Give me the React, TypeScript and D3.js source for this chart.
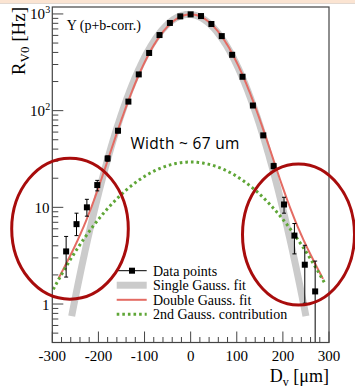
import * as d3 from "d3";

// bin centres (µm) and measured rates (Hz)
const binCenters = [-270, -247.5, -225, -202.5, -180, -157.5, -135, -112.5, -90, -67.5, -45, -22.5, 0,
  22.5, 45, 67.5, 90, 112.5, 135, 157.5, 180, 202.5, 225, 247.5, 270];
const rates = [3.5, 6.7, 10, 17, 32, 62, 124, 237, 395, 605, 807, 944, 990,
  951, 787, 590, 378, 224, 113, 55.5, 26.7, 10.7, 5.1, 2.55, 1.35];
const errLow = [1.9, 5.1, 8.1, 14.8, 30, 59, 120, 232, 390, 600, 800, 938, 984,
  945, 780, 584, 372, 219, 110, 53, 25, 8.7, 3.3, 1.02, 0.4];
const errHigh = [5.0, 8.7, 12.1, 19, 34, 65, 128, 242, 400, 610, 814, 950, 996,
  957, 794, 596, 384, 229, 116, 58, 28.5, 12.7, 6.8, 4.05, 2.78];

// fit parameters
const singleFit = { amp: 990, mean: -4, sigma: 67, from: -258, to: 250 };
const narrowFit = { amp: 960, mean: 0, sigma: 65 };
const broadFit = { amp: 29.4, mean: 0, sigma: 121 };
const doubleRange = [-287, 287];
const broadRange = [-298, 292];

const xTicksMajor = [-300, -200, -100, 0, 100, 200, 300];
const yTicksMajor = [1, 10, 100, 1000];
const yTickLabels = [["1", ""], ["10", ""], ["10", "2"], ["10", "3"]];
const legendItems = ["Data points", "Single Gauss. fit", "Double Gauss. fit", "2nd Gauss. contribution"];

const W = 355, H = 388;
const L = 52.3, R = 329, T = 7, B = 342.5;
const serif = "'Liberation Serif', 'Times New Roman', serif";

const gauss = (p: { amp: number; mean: number; sigma: number }, x: number) =>
  p.amp * Math.exp(-((x - p.mean) ** 2) / (2 * p.sigma * p.sigma));

export default function App() {
  const x = d3.scaleLinear().domain([-300, 300]).range([L, R]);
  const y = d3.scaleLog().domain([0.4, 1180]).range([B, T]);
  const line = d3.line<[number, number]>().x(d => x(d[0])).y(d => y(d[1]));

  const sample = (a: number, b: number, f: (v: number) => number) =>
    d3.range(a, b + 0.01, (b - a) / 300).map(v => [v, f(v)] as [number, number]);

  const single = sample(singleFit.from, singleFit.to, v => gauss(singleFit, v));
  const dbl = sample(doubleRange[0], doubleRange[1], v => gauss(narrowFit, v) + gauss(broadFit, v));
  const broad = sample(broadRange[0], broadRange[1], v => gauss(broadFit, v));

  const minorX = d3.range(-300, 301, 20).filter(v => v % 100 !== 0);
  const minorY: number[] = [];
  [0.1, 1, 10, 100, 1000].forEach(dec => {
    for (let m = 2; m <= 9; m++) {
      const v = dec * m;
      if (v >= 0.4 && v <= 1180) minorY.push(v);
    }
  });

  const legY = [270.7, 285.2, 299.8, 314.3];
  const red = "#e46b63", green = "#5fa637", gray = "#cbcbcb";

  return (
    <svg width={W} height={H} style={{ position: "absolute", left: 0, top: 0, background: "#fff" }}
      fontFamily={serif}>
      <rect x={0} y={0} width={W} height={3} fill="#fbe4d2" />
      <line x1={0} x2={W} y1={3.5} y2={3.5} stroke="#e2d8d0" strokeWidth={1} />

      {/* fits */}
      <path d={line(single)!} fill="none" stroke={gray} strokeWidth={7} />
      <path d={line(dbl)!} fill="none" stroke={red} strokeWidth={2} />
      <path d={line(broad)!} fill="none" stroke={green} strokeWidth={3} strokeDasharray="2.6 3" />

      {/* data */}
      {binCenters.map((c, i) => (
        <g key={i}>
          <line x1={x(c)} x2={x(c)} y1={y(Math.max(errLow[i], 0.4))} y2={y(errHigh[i])} stroke="#000" strokeWidth={1} />
          <line x1={x(c) - 2} x2={x(c) + 2} y1={y(errHigh[i])} y2={y(errHigh[i])} stroke="#000" strokeWidth={1} />
          {errLow[i] > 0.4 && (
            <line x1={x(c) - 2} x2={x(c) + 2} y1={y(errLow[i])} y2={y(errLow[i])} stroke="#000" strokeWidth={1} />
          )}
          <rect x={x(c) - 3} y={y(rates[i]) - 3} width={6} height={6} fill="#000" />
        </g>
      ))}

      {/* frame */}
      <rect x={L} y={T} width={R - L} height={B - T} fill="none" stroke="#444" strokeWidth={1.2} />
      {xTicksMajor.map(v => (
        <g key={v}>
          <line x1={x(v)} x2={x(v)} y1={B} y2={B - 11} stroke="#444" />
          <text x={x(v)} y={360.5} textAnchor="middle" fontSize={15}>{v}</text>
        </g>
      ))}
      {minorX.map(v => <line key={v} x1={x(v)} x2={x(v)} y1={B} y2={B - 5.5} stroke="#444" />)}
      {yTicksMajor.map((v, i) => (
        <g key={v}>
          <line x1={L} x2={L + 11} y1={y(v)} y2={y(v)} stroke="#444" />
          <text x={yTickLabels[i][1] ? 45 : 49.5} y={y(v) + 5.5} textAnchor="end" fontSize={15}>{yTickLabels[i][0]}</text>
          {yTickLabels[i][1] && (
            <text x={45.3} y={y(v) - 0.5} fontSize={10}>{yTickLabels[i][1]}</text>
          )}
        </g>
      ))}
      {minorY.map(v => <line key={v} x1={L} x2={L + 6} y1={y(v)} y2={y(v)} stroke="#444" />)}

      {/* titles */}
      <text transform="rotate(-90)" x={-T} y={25} textAnchor="end" fontSize={19}>
        R<tspan fontSize={13} dy={4}>V0</tspan><tspan dy={-4}> [Hz]</tspan>
      </text>
      <text x={R} y={381.7} textAnchor="end" fontSize={18}>
        D<tspan fontSize={12} dy={4}>v</tspan><tspan dy={-4}> [μm]</tspan>
      </text>
      <text x={66.7} y={29.5} fontSize={14}>Y (p+b-corr.)</text>
      <text x={130.5} y={149} fontSize={15.5} letterSpacing={0.3} fontFamily="'Open Sans', sans-serif">Width ~ 67 um</text>

      {/* legend */}
      <line x1={116.7} x2={146.7} y1={legY[0]} y2={legY[0]} stroke="#000" />
      <rect x={129} y={legY[0] - 3} width={6} height={6} fill="#000" />
      <line x1={116.7} x2={146.7} y1={legY[1]} y2={legY[1]} stroke={gray} strokeWidth={7} />
      <line x1={116.7} x2={146.7} y1={legY[2]} y2={legY[2]} stroke={red} strokeWidth={2} />
      <line x1={116.7} x2={146.7} y1={legY[3]} y2={legY[3]} stroke={green} strokeWidth={3} strokeDasharray="2.6 3" />
      {legendItems.map((t, i) => (
        <text key={t} x={153} y={legY[i] + 4.8} fontSize={14}>{t}</text>
      ))}

      {/* highlight ellipses */}
      <ellipse cx={70} cy={228.7} rx={58.3} ry={70.5} fill="none" stroke="#a80c0c" strokeWidth={3} />
      <ellipse cx={298.5} cy={234.5} rx={56} ry={70.5} fill="none" stroke="#a80c0c" strokeWidth={3} />
    </svg>
  );
}
